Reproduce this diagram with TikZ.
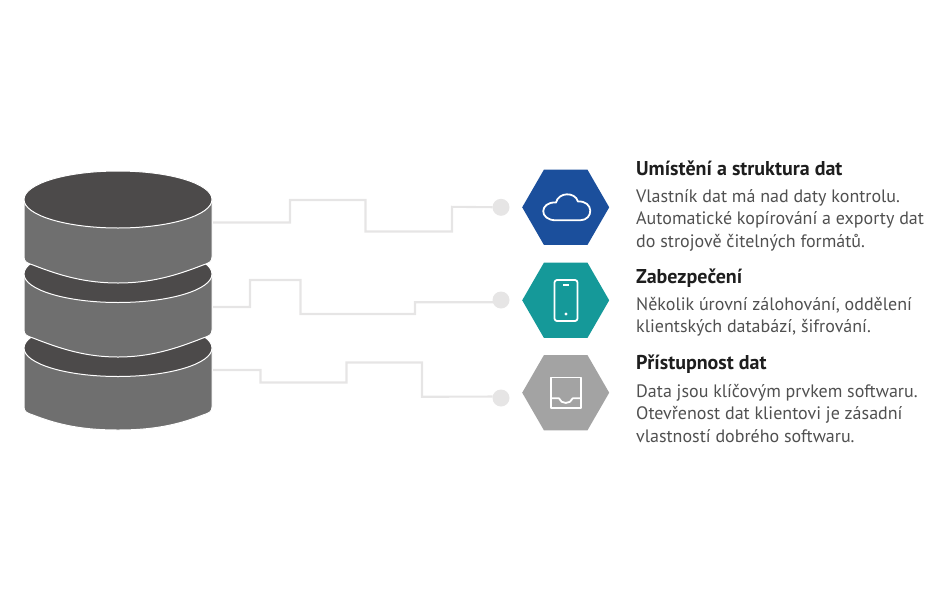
\documentclass[tikz,border=0pt]{standalone}
\usepackage{fontspec}
\setmainfont{PT Sans}
\usepackage{xcolor}
\usetikzlibrary{shapes.geometric,positioning,calc}
\definecolor{slabgrey}{HTML}{6F6F6F}
\definecolor{capgrey}{HTML}{4C4A4A}
\definecolor{wiregrey}{HTML}{E6E5E5}
\definecolor{hexblue}{HTML}{1B4F9C}
\definecolor{hexteal}{HTML}{159999}
\definecolor{hexgrey}{HTML}{A3A3A3}
\definecolor{bodytext}{HTML}{505050}
\definecolor{headtext}{HTML}{1E1E1E}
\tikzset{
    wire/.style={draw=wiregrey, line width=2.1pt},
    dot/.style={circle, fill=wiregrey, minimum size=17pt, inner sep=0pt, outer sep=0pt},
    hex/.style={regular polygon, regular polygon sides=6, minimum size=87pt, inner sep=0pt, outer sep=0pt},
    icon/.style={draw=white, line width=1.8pt, line join=round},
    head/.style={anchor=north west, inner sep=0pt, text=headtext, font=\fontsize{20}{24}\selectfont\bfseries},
    para/.style={anchor=north west, inner sep=0pt, align=left, text=bodytext, font=\fontsize{18}{22.5}\selectfont},
}
\begin{document}
\begin{tikzpicture}[x=1pt,y=-1pt]
    \useasboundingbox (0,0) rectangle (940,600);

    % Database
    \foreach \cy/\sb/\cb in {348/407/430, 274/330/357, 199.5/257/283} {
        \draw[white, line width=1pt, fill=slabgrey] (24,\cy) -- (24,\sb)
            .. controls (24,\sb+5) and (27,\sb+6) .. (33,\sb+8)
            .. controls (61,\sb+19) and (86,\cb) .. (118,\cb)
            .. controls (150,\cb) and (175,\sb+19) .. (203,\sb+8)
            .. controls (209,\sb+6) and (212,\sb+5) .. (212,\sb) -- (212,\cy) -- cycle;
        \draw[white, line width=1pt, fill=capgrey] (118,\cy) ellipse [x radius=94pt, y radius=28.5pt];
    }

    % Hexagons
    \node[hex, fill=hexblue] (cloudhex) at (565.7,207.3) {};
    \node[hex, fill=hexteal] (phonehex) at (565.7,300.3) {};
    \node[hex, fill=hexgrey] (trayhex) at (565.7,392.7) {};

    % Connectors
    \node[dot] (clouddot) at (501,207.3) {};
    \node[dot] (phonedot) at (501,300) {};
    \node[dot] (traydot) at (501,398) {};
    \coordinate (cloudwire) at (213,222.5);
    \coordinate (phonewire) at (213,307);
    \coordinate (traywire) at (213,370);
    \draw[wire] (cloudwire) -- ++(77,0) -- ++(0,-22.5) -- ++(75.5,0) -- ++(0,31.5) -- ++(86.5,0) -- ++(0,-24.7) -- (clouddot);
    \draw[wire] (phonewire) -- ++(37,0) -- ++(0,-27) -- ++(50.5,0) -- ++(0,34) -- ++(114.5,0) -- ++(0,-11.8) -- (phonedot.195);
    \draw[wire] (traywire) -- ++(47.5,0) -- ++(0,12.5) -- ++(86,0) -- ++(0,-20) -- ++(75.5,0) -- ++(0,34.3) -- (traydot.170);

    % Icons
    \draw[icon] (556,220.3) .. controls (538.5,220.3) and (539.5,201.5) .. (556,202.5)
        .. controls (558.5,192) and (575,191.5) .. (578,201.5)
        .. controls (594,200.5) and (594,220.3) .. (580,220.3) -- cycle;
    \draw[icon, rounded corners=2.5pt] (554.5,280) rectangle (577.5,321);
    \draw[icon] (563,285) -- (569,285);
    \fill[white] (566,314) circle (1.7pt);
    \draw[icon] (551,377.5) rectangle (581,408);
    \draw[icon] (551,398.3) -- (559,398.3) .. controls (561,404.5) and (570.5,404.5) .. (572.7,398.3) -- (581,398.3);

    % Texts
    \node[head] (cloudhead) at (636,161) {Umístění a struktura dat};
    \node[para] (cloudtext) at (636,189) {Vlastník dat má nad daty kontrolu.\\Automatické kopírování a exporty dat\\do strojově čitelných formátů.};
    \node[head] (phonehead) at (636,269) {Zabezpečení};
    \node[para] (phonetext) at (636,297) {Několik úrovní zálohování, oddělení\\klientských databází, šifrování.};
    \node[head] (trayhead) at (636,355) {Přístupnost dat};
    \node[para] (traytext) at (636,384) {Data jsou klíčovým prvkem softwaru.\\Otevřenost dat klientovi je zásadní\\vlastností dobrého softwaru.};
\end{tikzpicture}
\end{document}
